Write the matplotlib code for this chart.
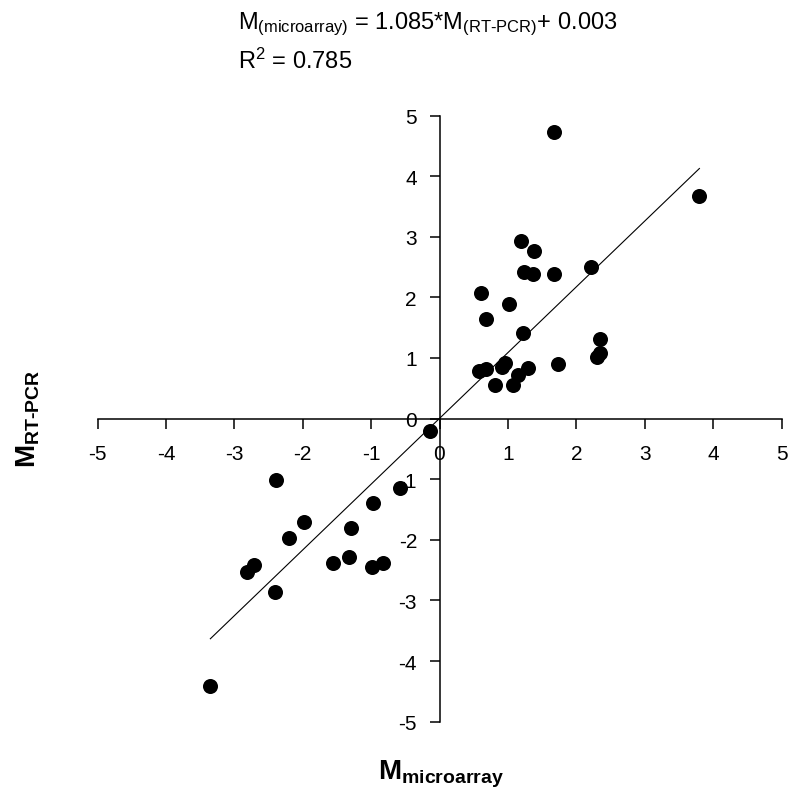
import matplotlib
matplotlib.use("Agg")
import matplotlib.pyplot as plt
import numpy as np

plt.rcParams['font.family'] = ['Liberation Sans', 'DejaVu Sans']
plt.rcParams['mathtext.fontset'] = 'custom'
plt.rcParams['mathtext.rm'] = 'Liberation Sans'
plt.rcParams['mathtext.it'] = 'Liberation Sans:italic'
plt.rcParams['mathtext.bf'] = 'Liberation Sans:bold'
plt.rcParams['axes.unicode_minus'] = False

# Data (M_microarray, M_RT-PCR)
m_microarray = [1.67, 3.80, 1.19, 1.38, 1.23, 1.36, 1.67, 2.21, 0.60, 1.01,
                0.68, 1.22, 2.35, 2.34, 2.30, 1.73, 0.58, 0.68, 0.91, 0.96,
                1.29, 1.15, 1.08, 0.81, -0.14, -2.39, -0.58, -0.97, -1.98, -1.29,
                -2.20, -2.71, -2.81, -1.55, -1.32, -0.99, -0.82, -2.41, -3.35]
m_rtpcr = [4.72, 3.67, 2.93, 2.76, 2.42, 2.39, 2.38, 2.50, 2.08, 1.89,
           1.65, 1.42, 1.31, 1.08, 1.01, 0.90, 0.78, 0.82, 0.85, 0.91,
           0.83, 0.72, 0.55, 0.55, -0.21, -1.01, -1.14, -1.39, -1.71, -1.80,
           -1.97, -2.41, -2.53, -2.38, -2.29, -2.44, -2.38, -2.86, -4.41]
slope = 1.085
intercept = 0.003
r_squared = 0.785
ticks = [-5, -4, -3, -2, -1, 0, 1, 2, 3, 4, 5]

W, H = 800, 803
fig = plt.figure(figsize=(W / 100, H / 100), dpi=100)
ax = fig.add_axes([97.5 / W, (H - 722.7) / H, 684 / W, 606.2 / H])

ax.set_xlim(-5, 5)
ax.set_ylim(-5, 5)
for s in ['top', 'right']:
    ax.spines[s].set_visible(False)
ax.spines['left'].set_position(('data', 0))
ax.spines['bottom'].set_position(('data', 0))
for s in ['left', 'bottom']:
    ax.spines[s].set_linewidth(1.1)

ax.set_xticks(ticks)
ax.set_yticks(ticks)
ax.set_xticklabels([str(t) for t in ticks])
ax.set_yticklabels([str(t) for t in ticks])
ax.tick_params(axis='x', direction='out', length=7.2, width=1.1, labelsize=15, pad=11)
ax.tick_params(axis='y', direction='out', length=7.2, width=1.1, labelsize=15, pad=9)

xs = np.array(m_microarray)
ys = np.array(m_rtpcr)
ax.scatter(xs, ys, s=117, color='black', zorder=3, linewidths=0)

lx = np.array([xs.min(), xs.max()])
ax.plot(lx, slope * lx + intercept, color='black', linewidth=0.8, zorder=2)

fig.text(238 / W, (H - 29) / H,
         r'M$_{\mathrm{(microarray)}}$ = %.3f*M$_{\mathrm{(RT‐PCR)}}$+ %.3f' % (slope, intercept),
         fontsize=17, ha='left', va='baseline')
fig.text(238 / W, (H - 69) / H, r'R$^{\mathrm{2}}$ = %.3f' % r_squared,
         fontsize=17, ha='left', va='baseline')

fig.text(440.5 / W, (H - 780) / H, r'$\mathbf{M}_{\mathbf{microarray}}$',
         fontsize=20, ha='center', va='baseline')
fig.text(28 / W, (H - 418.5) / H, r'$\mathbf{M}_{\mathbf{RT‐PCR}}$',
         fontsize=20, ha='center', va='center', rotation=90)

fig.savefig('out.png', dpi=100)
